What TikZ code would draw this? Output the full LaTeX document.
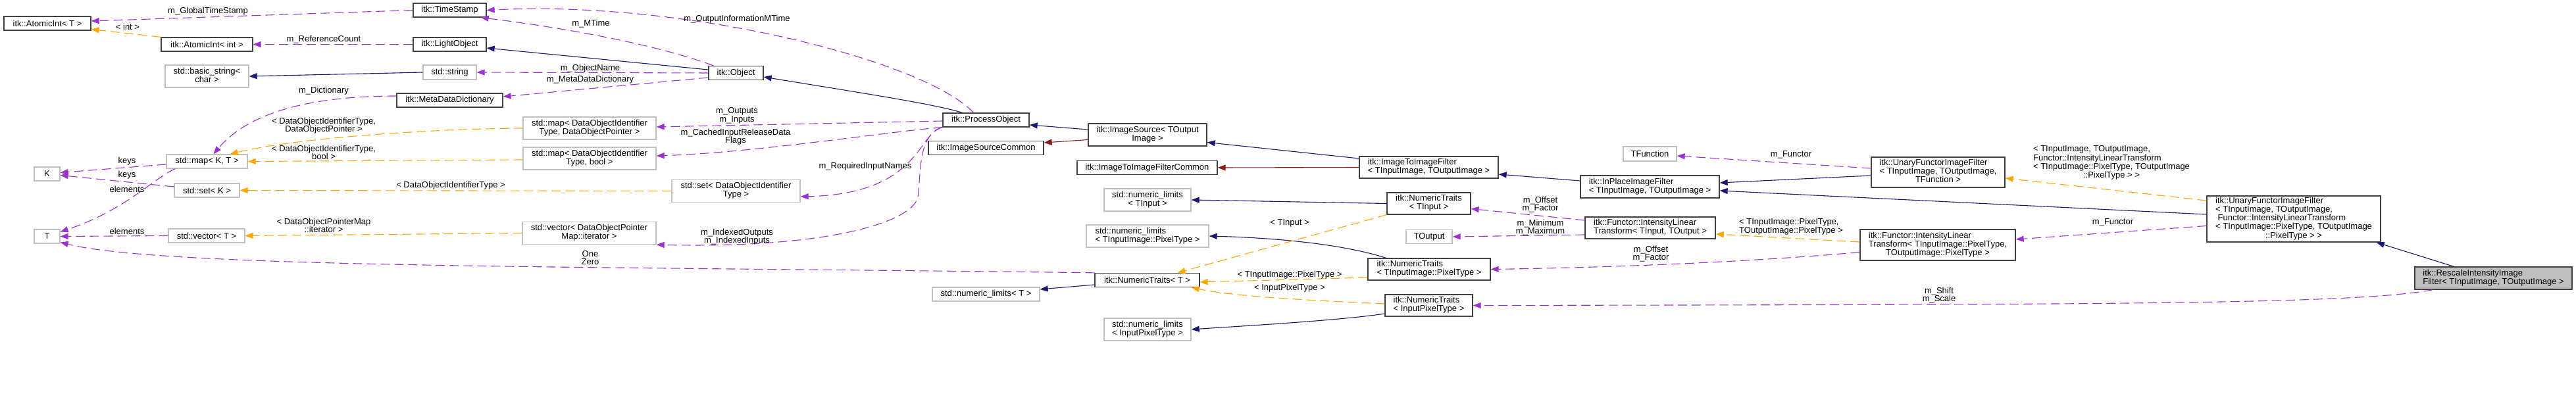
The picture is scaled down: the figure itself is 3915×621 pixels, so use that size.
\documentclass[tikz,border=0pt]{standalone}
\usepackage{fontspec}
\setmainfont{Liberation Sans}
\usetikzlibrary{arrows.meta}
\definecolor{inhcol}{HTML}{191970}
\definecolor{protcol}{HTML}{8B1A1A}
\definecolor{membcol}{HTML}{9A32CD}
\definecolor{tmplcol}{HTML}{FFA500}
\newcommand{\twol}[2]{\begin{tabular}{@{}l@{}}#1\\\multicolumn{1}{@{}c@{}}{#2}\end{tabular}}
\tikzset{
  every node/.style={font=\fontsize{13}{12.5}\selectfont, inner sep=0pt},
  doc/.style={draw=black!75, line width=1.3pt, fill=white},
  ext/.style={draw=gray!50, line width=1.3pt, fill=white},
  wh/.style 2 args={minimum width=#1pt, minimum height=#2pt},
  lbl/.style={align=center},
  inh/.style={draw=inhcol, line width=1.1pt, -{Triangle[length=12pt,width=9pt]}},
  prot/.style={inh, draw=protcol},
  member/.style={draw=membcol, line width=1.1pt, dash pattern=on 14pt off 7pt, -{Triangle[length=12pt,width=9pt]}},
  tmpl/.style={member, draw=tmplcol},
}

\begin{document}
\begin{tikzpicture}[x=1pt, y=-1pt]
  \useasboundingbox (0,0) rectangle (3915,621);

  \node[doc, wh={132}{21}] (atT) at (72,35.5) {itk::AtomicInt< T >};
  \node[doc, wh={139}{21}] (atInt) at (314.5,67.5) {itk::AtomicInt< int >};
  \node[ext, wh={127}{34}] (bstr) at (314.5,116) {\twol{std::basic\_string<}{char >}};
  \node[ext, wh={123}{21}] (mapKT) at (314.5,245.5) {std::map< K, T >};
  \node[ext, wh={39}{21}] (K) at (71.5,264.5) {K};
  \node[ext, wh={99}{21}] (setK) at (314.5,289.5) {std::set< K >};
  \node[ext, wh={39}{21}] (T) at (71.5,359.5) {T};
  \node[ext, wh={116}{21}] (vecT) at (314,358.5) {std::vector< T >};
  \node[doc, wh={111}{21}] (ts) at (683.5,15.5) {itk::TimeStamp};
  \node[doc, wh={111}{21}] (lo) at (683.5,67.5) {itk::LightObject};
  \node[ext, wh={81}{22}] (str) at (683.5,110) {std::string};
  \node[doc, wh={161}{21}] (mdd) at (683.5,152.5) {itk::MetaDataDictionary};
  \node[ext, wh={202}{34}] (mapDOP) at (896,195) {\twol{std::map< DataObjectIdentifier}{Type, DataObjectPointer >}};
  \node[ext, wh={202}{34}] (mapBool) at (896,241) {\twol{std::map< DataObjectIdentifier}{Type, bool >}};
  \node[ext, wh={203}{34}] (vecIt) at (895.5,354.5) {\twol{std::vector< DataObjectPointer}{Map::iterator >}};
  \node[doc, wh={83}{21}] (obj) at (1118.5,111) {itk::Object};
  \node[ext, wh={195}{34}] (setDO) at (1118.5,290.5) {\twol{std::set< DataObjectIdentifier}{Type >}};
  \node[doc, wh={131}{21}] (po) at (1498.5,182.5) {itk::ProcessObject};
  \node[doc, wh={175}{21}] (isc) at (1498.5,225) {itk::ImageSourceCommon};
  \node[ext, wh={163}{21}] (nlT) at (1498.5,447.5) {std::numeric\_limits< T >};
  \node[doc, wh={180}{34}] (is) at (1744,205) {\twol{itk::ImageSource< TOutput}{Image >}};
  \node[doc, wh={213}{21}] (itifc) at (1743.5,255) {itk::ImageToImageFilterCommon};
  \node[ext, wh={132}{34}] (nlTI) at (1744,304) {\twol{std::numeric\_limits}{< TInput >}};
  \node[ext, wh={186}{34}] (nlTIPT) at (1744,359) {\twol{std::numeric\_limits}{< TInputImage::PixelType >}};
  \node[doc, wh={159}{21}] (ntT) at (1743.5,426) {itk::NumericTraits< T >};
  \node[ext, wh={132}{34}] (nlIPT) at (1744,501) {\twol{std::numeric\_limits}{< InputPixelType >}};
  \node[doc, wh={211}{33}] (itif) at (2171.5,254.5) {\twol{itk::ImageToImageFilter}{< TInputImage, TOutputImage >}};
  \node[doc, wh={127}{33}] (ntTI) at (2171.5,309.5) {\twol{itk::NumericTraits}{< TInput >}};
  \node[ext, wh={70}{21}] (tout) at (2172,360) {TOutput};
  \node[doc, wh={186}{33}] (ntTIPT) at (2172,409.5) {\twol{itk::NumericTraits}{< TInputImage::PixelType >}};
  \node[doc, wh={133}{33}] (ntIPT) at (2171.5,464.5) {\twol{itk::NumericTraits}{< InputPixelType >}};
  \node[doc, wh={211}{34}] (ipif) at (2507.5,284) {\twol{itk::InPlaceImageFilter}{< TInputImage, TOutputImage >}};
  \node[doc, wh={198}{33}] (iltIO) at (2508,346.5) {\twol{itk::Functor::IntensityLinear}{Transform< TInput, TOutput >}};
  \node[ext, wh={81}{22}] (tfun) at (2507.5,234) {TFunction};
  \node[doc, wh={203}{46}] (ufifT) at (2945.5,262) {\twol{itk::UnaryFunctorImageFilter\\< TInputImage, TOutputImage,}{TFunction >}};
  \node[doc, wh={236}{47}] (iltPT) at (2945,372.5) {\twol{itk::Functor::IntensityLinear\\Transform< TInputImage::PixelType,}{TOutputImage::PixelType >}};
  \node[doc, wh={264}{70}] (ufifF) at (3486,333) {\twol{itk::UnaryFunctorImageFilter\\< TInputImage, TOutputImage,\\\ Functor::IntensityLinearTransform\\< TInputImage::PixelType, TOutputImage}{::PixelType > >}};
  \node[doc, fill=gray!50, wh={239}{34}] (rescale) at (3789.5,423) {\twol{itk::RescaleIntensityImage}{Filter< TInputImage, TOutputImage >}};

  \draw[member] (ts.west) -- ([yshift=3.5pt]atT.east) node[lbl] (lGts) at (316,17) {m\_GlobalTimeStamp};
  \draw[tmpl] (atInt.north west) -- ([yshift=-9pt]atT.east) node[lbl] (lInt) at (194,41) {< int >};
  \draw[member] (lo.west) -- (atInt.east) node[lbl] (lRef) at (492,60) {m\_ReferenceCount};
  \draw[member] ([xshift=8pt]obj.north west) .. controls (990,65) and (840,40) .. ([xshift=-9pt]ts.south east) node[lbl] (lMt) at (898,36) {m\_MTime};
  \draw[inh] ([yshift=5pt]obj.west) -- ([yshift=-5.5pt]lo.east);
  \draw[inh] (str.west) -- (bstr.east);
  \draw[member] (obj.west) -- (str.east) node[lbl] (lName) at (897,104) {m\_ObjectName};
  \draw[member] ([yshift=-7pt]obj.west) -- ([yshift=5.5pt]mdd.east) node[lbl] (lMdd) at (897,121) {m\_MetaDataDictionary};
  \draw[member] ([xshift=47pt]po.north west) .. controls (1410,95) and (1050,0) .. (ts.east) node[lbl] (lOim) at (1120,29) {m\_OutputInformationMTime};
  \draw[inh] ([xshift=30pt]po.north west) .. controls (1420,158) and (1300,140) .. ([yshift=-6pt]obj.east);
  \draw[member] ([yshift=6.5pt]mdd.west) .. controls (450,146) and (370,180) .. ([xshift=10pt]mapKT.north) node[lbl] (lDict) at (492,138) {m\_Dictionary};
  \draw[tmpl] (mapDOP.west) .. controls (650,196) and (450,210) .. ([xshift=35pt]mapKT.north) node[lbl] (lDop) at (492,191) {< DataObjectIdentifierType,\\DataObjectPointer >};
  \draw[tmpl] ([yshift=-2pt]mapBool.west) -- (mapKT.east) node[lbl] (lBool) at (492,232) {< DataObjectIdentifierType,\\bool >};
  \draw[tmpl] (setDO.west) -- (setK.east) node[lbl] (lDoit) at (685,282) {< DataObjectIdentifierType >};
  \draw[tmpl] (vecIt.west) -- (vecT.east) node[lbl] (lIter) at (492,343) {< DataObjectPointerMap\\::iterator >};
  \draw[member] ([yshift=-4.5pt]mapKT.west) -- ([yshift=2pt]K.east) node[lbl] (lKeyA) at (193,245) {keys};
  \draw[member] ([yshift=5.5pt]setK.west) -- ([yshift=-2pt]K.east) node[lbl] (lKeyB) at (193,266) {keys};
  \draw[member] ([xshift=14pt]mapKT.south west) .. controls (235,270) and (190,320) .. ([yshift=7pt]T.east) node[lbl] (lElA) at (193,288) {elements};
  \draw[member] (vecT.west) -- (T.east) node[lbl] (lElB) at (193,352) {elements};
  \draw[member] (ntT.north west) .. controls (900,405) and (250,408) .. ([yshift=-9pt]T.east) node[lbl] (lOne) at (897,392) {One\\Zero};
  \draw[member] ([yshift=-1.5pt]po.west) -- ([yshift=2pt]mapDOP.east) node[lbl] (lOut) at (1120,176) {m\_Outputs\\m\_Inputs};
  \draw[member] (po.south west) .. controls (1350,200) and (1150,232) .. ([yshift=4pt]mapBool.east) node[lbl] (lCache) at (1118,208) {m\_CachedInputReleaseData\\Flags};
  \draw[member] (po.south west) .. controls (1395,200) and (1400,295) .. ([yshift=-8.5pt]setDO.east) node[lbl] (lReq) at (1315,253) {m\_RequiredInputNames};
  \draw[member] (po.south west) .. controls (1395,205) and (1400,260) .. (1395,300) .. controls (1385,340) and (1250,378) .. (vecIt.south east) node[lbl] (lIdx) at (1120,360) {m\_IndexedOutputs\\m\_IndexedInputs};
  \draw[inh] ([yshift=8pt]is.west) -- ([yshift=-7.5pt]po.east);
  \draw[prot] ([yshift=-7.5pt]is.west) -- ([yshift=8pt]isc.east);
  \draw[inh] ([yshift=13.5pt]itif.west) -- ([yshift=-11.5pt]is.east);
  \draw[prot] (itif.west) -- (itifc.east);
  \draw[inh] ([yshift=9pt]ipif.west) -- ([yshift=-10.5pt]itif.east);
  \draw[inh] (ntTI.west) -- (nlTI.east);
  \draw[inh] ([xshift=28pt]ntTIPT.north west) .. controls (2047,373) and (1950,362) .. (nlTIPT.east);
  \draw[inh] ([yshift=-12.5pt]ntIPT.west) .. controls (2040,487) and (1900,495) .. (nlIPT.east);
  \draw[inh] ([yshift=-7pt]ntT.west) -- ([yshift=7.5pt]nlT.east);
  \draw[tmpl] (ntTI.south west) -- ([xshift=46pt]ntT.north) node[lbl] (lTin) at (1960,339) {< TInput >};
  \draw[tmpl] ([yshift=-12.5pt]ntTIPT.west) -- ([yshift=-3pt]ntT.east) node[lbl] (lTipt) at (1960,418) {< TInputImage::PixelType >};
  \draw[tmpl] ([yshift=2.5pt]ntIPT.west) .. controls (2020,458) and (1880,452) .. ([xshift=-13pt]ntT.south east) node[lbl] (lIpt) at (1960,438) {< InputPixelType >};
  \draw[member] ([yshift=11.5pt]iltIO.west) -- ([yshift=-8pt]ntTI.east) node[lbl] (lOffA) at (2341,311) {m\_Offset\\m\_Factor};
  \draw[member] ([yshift=-10.5pt]iltIO.west) -- (tout.east) node[lbl] (lMin) at (2341,346) {m\_Minimum\\m\_Maximum};
  \draw[member] ([yshift=6pt]ufifT.west) -- ([yshift=-3pt]tfun.east) node[lbl] (lFunA) at (2722,235) {m\_Functor};
  \draw[inh] ([yshift=-5pt]ufifT.west) -- ([yshift=6pt]ipif.east);
  \draw[inh] ([yshift=7pt]ufifF.west) -- ([yshift=-6pt]ipif.east);
  \draw[tmpl] ([yshift=28pt]ufifF.west) -- ([yshift=-9pt]ufifT.east) node[lbl] (lUnary) at (3209,248) {\twol{< TInputImage, TOutputImage,\\Functor::IntensityLinearTransform\\< TInputImage::PixelType, TOutputImage}{::PixelType > >}};
  \draw[member] ([yshift=-10.5pt]ufifF.west) -- ([yshift=8.5pt]iltPT.east) node[lbl] (lFunB) at (3211,338) {m\_Functor};
  \draw[tmpl] ([yshift=4.5pt]iltPT.west) -- ([yshift=-9.5pt]iltIO.east) node[lbl] (lPix) at (2722,345) {\twol{< TInputImage::PixelType,}{TOutputImage::PixelType >}};
  \draw[member] ([yshift=-11pt]iltPT.west) .. controls (2700,395) and (2500,406) .. (ntTIPT.east) node[lbl] (lOffB) at (2509,386) {m\_Offset\\m\_Factor};
  \draw[inh] ([xshift=60pt]rescale.north west) -- ([xshift=-7pt]ufifF.south east);
  \draw[member] ([xshift=28pt]rescale.south west) .. controls (3580,463) and (3200,463) .. (ntIPT.east) node[lbl] (lShift) at (2947,449) {m\_Shift\\m\_Scale};
\end{tikzpicture}
\end{document}
